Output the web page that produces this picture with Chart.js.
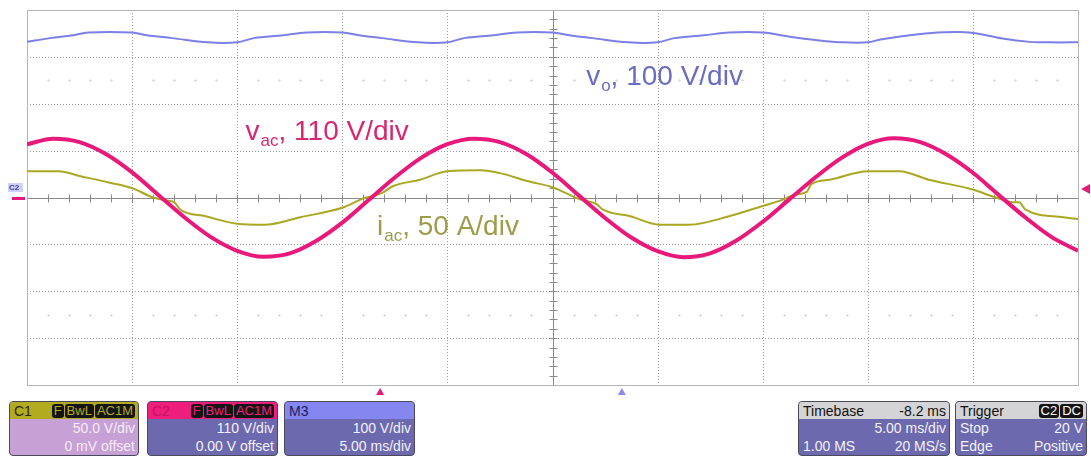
<!DOCTYPE html>
<html lang="en">
  <head>
    <meta charset="UTF-8" />
    <title>Scope capture</title>
    <script src="https://cdn.jsdelivr.net/npm/chart.js"></script>
    <style>
      body {
        margin: 0;
        width: 1091px;
        height: 458px;
        overflow: hidden;
        background: #fff;
        font-family: "Liberation Sans", Arial, sans-serif;
      }
      #scope {
        position: absolute;
        left: 0;
        top: 0;
      }
      .panel {
        position: absolute;
        top: 401px;
        height: 55px;
        box-sizing: border-box;
        border: 1px solid #4b4a5c;
        border-radius: 4px;
        overflow: hidden;
        background: #6d69ae;
        color: #f2f2fb;
        font-size: 14px;
      }
      .panel .hd,
      .panel .row {
        display: flex;
        justify-content: space-between;
        align-items: center;
        padding: 0 3px 0 4px;
      }
      .panel .hd {
        height: 17px;
      }
      .panel .row {
        height: 18px;
      }
      .badges {
        display: flex;
        gap: 1px;
      }
      .badge {
        background: #141414;
        border-radius: 3px;
        padding: 0 2px;
        font-size: 13px;
        line-height: 14px;
      }
    </style>
  </head>
  <body>
    <canvas id="scope" width="1091" height="400"></canvas>

    <div class="panel" style="left: 9px; width: 130px; background: #c7a0d5; color: #f6ecf6">
      <div class="hd" style="background: #b3ab1f; color: #2a2a10">
        <span>C1</span>
        <span class="badges" style="color: #b3ab1f"><span class="badge">F</span><span class="badge">BwL</span><span class="badge">AC1M</span></span>
      </div>
      <div class="row"><span></span><span>50.0 V/div</span></div>
      <div class="row"><span></span><span>0 mV offset</span></div>
    </div>

    <div class="panel" style="left: 147px; width: 131px">
      <div class="hd" style="background: #ee1f7c; color: #c8105e">
        <span>C2</span>
        <span class="badges" style="color: #ee1f7c"><span class="badge">F</span><span class="badge">BwL</span><span class="badge">AC1M</span></span>
      </div>
      <div class="row"><span></span><span>110 V/div</span></div>
      <div class="row"><span></span><span>0.00 V offset</span></div>
    </div>

    <div class="panel" style="left: 284px; width: 131px">
      <div class="hd" style="background: #8686f0; color: #1c1c5c">
        <span>M3</span><span></span>
      </div>
      <div class="row"><span></span><span>100 V/div</span></div>
      <div class="row"><span></span><span>5.00 ms/div</span></div>
    </div>

    <div class="panel" style="left: 798px; width: 152px">
      <div class="hd" style="background: #d4d4d6; color: #111">
        <span>Timebase</span><span>-8.2 ms</span>
      </div>
      <div class="row"><span></span><span>5.00 ms/div</span></div>
      <div class="row"><span>1.00 MS</span><span>20 MS/s</span></div>
    </div>

    <div class="panel" style="left: 955px; width: 132px">
      <div class="hd" style="background: #d4d4d6; color: #111">
        <span>Trigger</span>
        <span class="badges" style="color: #fff"><span class="badge">C2</span><span class="badge">DC</span></span>
      </div>
      <div class="row"><span>Stop</span><span>20 V</span></div>
      <div class="row"><span>Edge</span><span>Positive</span></div>
    </div>

    <script>
      // screen divisions: 10 x 5 ms across, 8 vertical
      const timeDivsMs = [0, 5, 10, 15, 20, 25, 30, 35, 40, 45, 50];
      const vertDivs = [-4, -3, -2, -1, 0, 1, 2, 3, 4];

      // per-channel scale settings
      const vacPerDiv = 110; // V/div
      const iacPerDiv = 50; // A/div
      const voPerDiv = 100; // V/div

      // C2 line voltage, sampled every 1.25 ms
      const vacStepMs = 1.25;
      const vacVolts = [
        125, 138, 130, 102, 59, 6, -47, -93, -125, -139, -131, -102, -59, -6,
        47, 93, 125, 138, 130, 102, 58, 5, -48, -94, -126, -140, -131, -101,
        -57, -5, 47, 93, 126, 139, 130, 101, 58, 5, -47, -93, -125,
      ];

      // C1 line current
      const iacTimeMs = [
        0, 1.5, 2.5, 3.9, 5.0, 6.0, 6.6, 7.0, 7.3, 8.5, 10.0, 11.3, 13.0, 15.0,
        16.0, 16.9, 17.4, 18.7, 20.0, 21.6, 22.5, 23.9, 25.0, 26.3, 27.1, 27.4,
        28.7, 30.1, 31.5, 33.4, 35.0, 36.0, 36.5, 37.1, 37.3, 38.2, 40.0, 41.5,
        42.9, 44.9, 46.1, 46.9, 47.2, 47.5, 49.3, 50.0,
      ];
      const iacAmps = [
        28, 28, 23, 16, 10, 0, -3, -5, -13, -20, -28, -29, -21, -11, -1, 5, 12,
        19, 28, 29, 26, 17, 11, -2, -7, -13, -20, -29, -29, -20, -9, -2, 3, 6,
        14, 19, 28, 28, 19, 9, 0, -5, -5, -13, -21, -23,
      ];

      // M3 dc-link voltage
      const voTimeMs = [
        0, 1.1, 2.2, 2.9, 5.0, 5.7, 6.9, 8.6, 10.0, 10.8, 12.2, 13.3, 15.0,
        15.8, 16.9, 18.6, 20.0, 20.8, 22.2, 23.3, 25.0, 25.8, 26.9, 28.6, 30.0,
        30.8, 32.2, 33.4, 35.0, 36.3, 37.7, 38.8, 40.0, 40.6, 42.0, 43.3, 44.4,
        45.2, 46.4, 47.7, 48.7, 50.0,
      ];
      const voVolts = [
        332, 340, 346, 352, 352, 346, 340, 331, 331, 340, 346, 352, 352, 346,
        340, 331, 331, 340, 346, 352, 352, 346, 340, 331, 331, 340, 346, 352,
        352, 343, 335, 331, 331, 337, 346, 352, 353, 350, 339, 332, 331, 331,
      ];

      const triggerLevelV = 20;
      const triggerTimeMs = 16.8;
      const mathRefTimeMs = 28.3;

      const traceLabels = [
        { sym: "v", sub: "o", text: ", 100 V/div", t: 26.6, div: 2.4, color: "#6a6cc2" },
        { sym: "v", sub: "ac", text: ", 110 V/div", t: 10.4, div: 1.23, color: "#d8266f" },
        { sym: "i", sub: "ac", text: ", 50 A/div", t: 16.65, div: -0.8, color: "#9e9c4a" },
      ];

      const FONT = '"Liberation Sans", Arial, sans-serif';

      function pts(xs, ys) {
        return ys.map((v, i) => ({ x: xs[i], y: v }));
      }

      function drawLabel(ctx, px, py, l) {
        ctx.fillStyle = l.color;
        ctx.textBaseline = "alphabetic";
        ctx.font = "28px " + FONT;
        ctx.fillText(l.sym, px, py);
        let w = ctx.measureText(l.sym).width;
        ctx.font = "17px " + FONT;
        ctx.fillText(l.sub, px + w + 1, py + 6);
        w += ctx.measureText(l.sub).width + 1;
        ctx.font = "28px " + FONT;
        ctx.fillText(l.text, px + w, py);
      }

      function triangle(ctx, a, b, c, color) {
        ctx.fillStyle = color;
        ctx.beginPath();
        ctx.moveTo(a[0], a[1]);
        ctx.lineTo(b[0], b[1]);
        ctx.lineTo(c[0], c[1]);
        ctx.closePath();
        ctx.fill();
      }

      // graticule, centre axes and channel markers
      const scopeGrid = {
        id: "scopeGrid",
        beforeDatasetsDraw(chart) {
          const { ctx, chartArea: a, scales } = chart;
          const x = scales.x, y = scales.y;
          ctx.save();
          ctx.lineWidth = 1;

          // dotted division lines
          ctx.strokeStyle = "#9c9c9c";
          ctx.setLineDash([1, 2]);
          timeDivsMs.slice(1, -1).forEach((t) => {
            if (t === 25) return;
            const px = Math.round(x.getPixelForValue(t)) + 0.5;
            ctx.beginPath();
            ctx.moveTo(px, a.top);
            ctx.lineTo(px, a.bottom);
            ctx.stroke();
          });
          vertDivs.slice(1, -1).forEach((d) => {
            if (d === 0) return;
            const py = Math.round(y.getPixelForValue(d)) + 0.5;
            ctx.beginPath();
            ctx.moveTo(a.left, py);
            ctx.lineTo(a.right, py);
            ctx.stroke();
          });
          ctx.setLineDash([]);

          // faint sub-division dots half way between lines
          ctx.fillStyle = "#dcdcdc";
          [-2.5, 2.5].forEach((d) => {
            const py = Math.round(y.getPixelForValue(d));
            for (let t = 1; t < 50; t++) {
              if (t % 5 === 0) continue;
              const px = Math.round(x.getPixelForValue(t));
              ctx.fillRect(px - 1, py, 3, 1);
              ctx.fillRect(px, py - 1, 1, 3);
            }
          });

          // centre axes with minor ticks
          const cx = Math.round(x.getPixelForValue(25)) + 0.5;
          const cy = Math.round(y.getPixelForValue(0)) + 0.5;
          ctx.strokeStyle = "#8a8a8a";
          ctx.beginPath();
          ctx.moveTo(a.left, cy);
          ctx.lineTo(a.right, cy);
          ctx.moveTo(cx, a.top);
          ctx.lineTo(cx, a.bottom);
          for (let t = 1; t < 50; t++) {
            const px = Math.round(x.getPixelForValue(t)) + 0.5;
            ctx.moveTo(px, cy - 4);
            ctx.lineTo(px, cy + 4);
          }
          for (let k = -19; k < 20; k++) {
            const py = Math.round(y.getPixelForValue(k / 5)) + 0.5;
            ctx.moveTo(cx - 4, py);
            ctx.lineTo(cx + 4, py);
          }
          ctx.stroke();

          // outer frame
          ctx.strokeStyle = "#b4b4b4";
          ctx.strokeRect(
            Math.round(a.left) + 0.5,
            Math.round(a.top) + 0.5,
            Math.round(a.right - a.left),
            Math.round(a.bottom - a.top)
          );
          ctx.restore();
        },
        afterDatasetsDraw(chart) {
          const { ctx, chartArea: a, scales } = chart;
          ctx.save();
          traceLabels.forEach((l) => {
            drawLabel(ctx, scales.x.getPixelForValue(l.t), scales.y.getPixelForValue(l.div), l);
          });

          // C2 ground reference on the left edge
          const gy = Math.round(scales.yVac.getPixelForValue(0));
          ctx.fillStyle = "#e8197a";
          ctx.fillRect(a.left - 15, gy - 1, 13, 3);
          ctx.fillStyle = "#cfd0f4";
          ctx.fillRect(a.left - 19, gy - 15, 15, 9);
          ctx.fillStyle = "#3a3aa8";
          ctx.font = "bold 8px " + FONT;
          ctx.textBaseline = "middle";
          ctx.fillText("C2", a.left - 18, gy - 10);

          // trigger level on the right edge
          const ty = scales.yVac.getPixelForValue(triggerLevelV);
          triangle(ctx, [a.right + 3, ty], [a.right + 12, ty - 5], [a.right + 12, ty + 5], "#e8197a");

          // trigger and reference time markers under the frame
          const tx = scales.x.getPixelForValue(triggerTimeMs);
          triangle(ctx, [tx, a.bottom + 3], [tx - 4, a.bottom + 10], [tx + 4, a.bottom + 10], "#e8197a");
          const mx = scales.x.getPixelForValue(mathRefTimeMs);
          triangle(ctx, [mx, a.bottom + 3], [mx - 4, a.bottom + 10], [mx + 4, a.bottom + 10], "#8b8bee");
          ctx.restore();
        },
      };

      const hidden = (min, max) => ({ type: "linear", min, max, display: false });

      new Chart(document.getElementById("scope").getContext("2d"), {
        type: "line",
        data: {
          datasets: [
            {
              label: "vac",
              data: pts(vacVolts.map((_, i) => i * vacStepMs), vacVolts),
              yAxisID: "yVac",
              borderColor: "#e8197a",
              borderWidth: 4,
              cubicInterpolationMode: "monotone",
            },
            {
              label: "iac",
              data: pts(iacTimeMs, iacAmps),
              yAxisID: "yIac",
              borderColor: "#aaa822",
              borderWidth: 2,
              cubicInterpolationMode: "monotone",
            },
            {
              label: "vo",
              data: pts(voTimeMs, voVolts),
              yAxisID: "yVo",
              borderColor: "#7b7fe6",
              borderWidth: 2,
              tension: 0.35,
            },
          ],
        },
        options: {
          responsive: false,
          animation: false,
          devicePixelRatio: 1,
          layout: { padding: { left: 27, right: 13, top: 10, bottom: 15 } },
          elements: {
            point: { radius: 0 },
            line: { fill: false },
          },
          plugins: { legend: { display: false }, tooltip: { enabled: false } },
          scales: {
            x: hidden(0, 50),
            y: hidden(-4, 4),
            yVac: hidden(-4 * vacPerDiv, 4 * vacPerDiv),
            yIac: hidden(-4 * iacPerDiv, 4 * iacPerDiv),
            yVo: hidden(-4 * voPerDiv, 4 * voPerDiv),
          },
        },
        plugins: [scopeGrid],
      });
    </script>
  </body>
</html>
